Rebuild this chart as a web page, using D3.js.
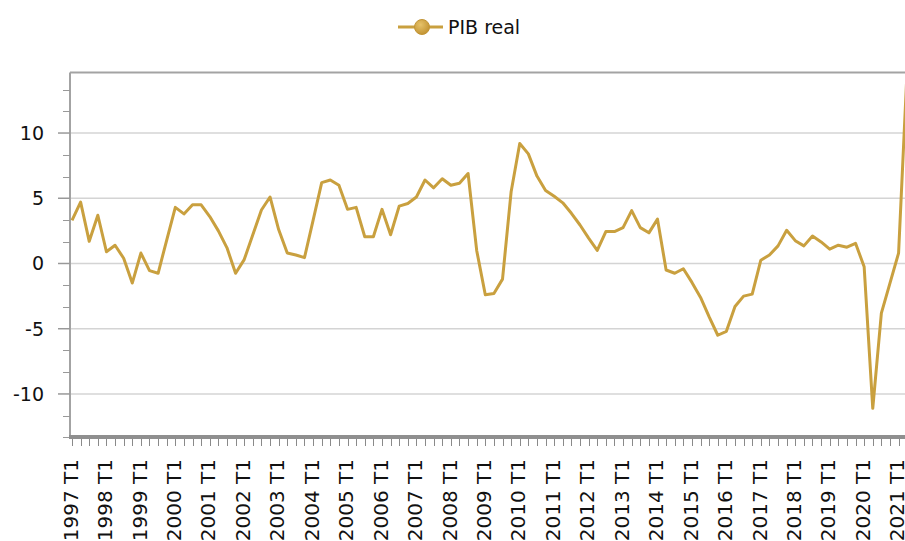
<!DOCTYPE html>
<html>
<head>
    <title>PIB real</title>
    <script src="https://d3js.org/d3.v7.min.js"></script>
    <style>
        body { margin: 0; background: #fff; overflow: hidden; }
        text { font-family: "DejaVu Sans", Verdana, sans-serif; fill: #111; }
    </style>
</head>
<body>
<svg width="905" height="541"></svg>
<script>
    // years shown on the category axis, each split in quarters T1..T4
    var years = [1997, 1998, 1999, 2000, 2001, 2002, 2003, 2004, 2005, 2006, 2007, 2008,
        2009, 2010, 2011, 2012, 2013, 2014, 2015, 2016, 2017, 2018, 2019, 2020, 2021];
    var quarters = ["T1", "T2", "T3", "T4"];

    // PIB real, % interanual, 1997 T1 .. 2021 T2
    var pibReal = [
        3.3, 4.7, 1.7, 3.7, 0.9, 1.4, 0.4, -1.5, 0.8, -0.55, -0.75, 1.8,
        4.3, 3.8, 4.5, 4.5, 3.6, 2.5, 1.2, -0.75, 0.3, 2.2, 4.1, 5.1,
        2.6, 0.8, 0.65, 0.45, 3.3, 6.2, 6.4, 6.0, 4.15, 4.3, 2.05, 2.05,
        4.15, 2.2, 4.4, 4.6, 5.1, 6.4, 5.8, 6.5, 6.0, 6.15, 6.9, 1.0,
        -2.4, -2.3, -1.2, 5.5, 9.2, 8.4, 6.7, 5.6, 5.15, 4.65, 3.85, 2.95,
        1.95, 1.0, 2.45, 2.45, 2.75, 4.05, 2.75, 2.35, 3.4, -0.5, -0.75, -0.4,
        -1.45, -2.6, -4.1, -5.5, -5.2, -3.3, -2.5, -2.35, 0.25, 0.65, 1.35, 2.55,
        1.75, 1.35, 2.1, 1.65, 1.1, 1.4, 1.25, 1.55, -0.25, -11.1, -3.8, -1.5,
        0.8, 15.0
    ];

    var yTicks = [-10, -5, 0, 5, 10];
    var seriesName = "PIB real";

    function draw() {
        var categories = [];
        years.forEach(function (yr) {
            quarters.forEach(function (q) { categories.push(yr + " " + q); });
        });
        categories = categories.slice(0, pibReal.length);

        var data = pibReal.map(function (v, i) { return {cat: categories[i], value: v}; });

        var svg = d3.select("svg");
        var color = "#c9a03f";

        var pLeft = 70, pTop = 72.5, pBottom = 437, pRight = 960;

        var x = d3.scalePoint()
            .domain(categories)
            .range([72, 907.2]);

        var y = d3.scaleLinear()
            .domain([-13.3, 14.64])
            .range([pBottom, pTop]);

        // grid
        svg.append("g")
            .selectAll("line")
            .data(yTicks)
            .enter().append("line")
            .attr("x1", pLeft).attr("x2", pRight)
            .attr("y1", function (d) { return y(d); })
            .attr("y2", function (d) { return y(d); })
            .attr("stroke", "#d4d4d4")
            .attr("stroke-width", 1.5);

        // frame: top and left
        svg.append("line")
            .attr("x1", pLeft).attr("x2", pRight).attr("y1", pTop).attr("y2", pTop)
            .attr("stroke", "#a3a3a3").attr("stroke-width", 2);
        svg.append("line")
            .attr("x1", pLeft).attr("x2", pLeft).attr("y1", pTop).attr("y2", pBottom)
            .attr("stroke", "#a3a3a3").attr("stroke-width", 2);

        // y axis: minor ticks every 5/3, major ticks with labels
        var minor = d3.range(-8, 9).map(function (k) { return k * 5 / 3; })
            .filter(function (v) { return v > -13.35 && v < 14.6 && Math.abs(v % 5) > 0.01; });

        var yAxis = svg.append("g");
        yAxis.selectAll("line.minor")
            .data(minor)
            .enter().append("line")
            .attr("class", "minor")
            .attr("x1", 63).attr("x2", pLeft)
            .attr("y1", function (d) { return Math.round(y(d)) + 0.5; })
            .attr("y2", function (d) { return Math.round(y(d)) + 0.5; })
            .attr("stroke", "#999");
        yAxis.selectAll("line.major")
            .data(yTicks)
            .enter().append("line")
            .attr("class", "major")
            .attr("x1", 58).attr("x2", pLeft)
            .attr("y1", function (d) { return y(d); })
            .attr("y2", function (d) { return y(d); })
            .attr("stroke", "#999").attr("stroke-width", 1.5);
        yAxis.selectAll("text")
            .data(yTicks)
            .enter().append("text")
            .attr("x", 44)
            .attr("y", function (d) { return y(d); })
            .attr("dy", "0.36em")
            .attr("text-anchor", "end")
            .attr("font-size", 19)
            .text(function (d) { return d; });

        // x axis
        var xAxis = svg.append("g");
        xAxis.selectAll("line")
            .data(categories)
            .enter().append("line")
            .attr("x1", function (d) { return Math.round(x(d)) + 0.5; })
            .attr("x2", function (d) { return Math.round(x(d)) + 0.5; })
            .attr("y1", pBottom).attr("y2", 446)
            .attr("stroke", "#8a8a8a");
        xAxis.append("line")
            .attr("x1", pLeft - 1).attr("x2", pRight)
            .attr("y1", pBottom).attr("y2", pBottom)
            .attr("stroke", "#8f8f8f").attr("stroke-width", 4);

        xAxis.selectAll("text")
            .data(categories.filter(function (d) { return d.slice(-2) === "T1"; }))
            .enter().append("text")
            .attr("transform", function (d) { return "translate(" + (x(d) - 1.5) + ",459) rotate(-90)"; })
            .attr("dy", "0.36em")
            .attr("text-anchor", "end")
            .attr("font-size", 20)
            .text(function (d) { return d; });

        // series, clipped to the plot area
        svg.append("clipPath").attr("id", "plot-clip")
            .append("rect")
            .attr("x", pLeft).attr("y", pTop)
            .attr("width", pRight - pLeft).attr("height", pBottom - pTop);

        var line = d3.line()
            .x(function (d) { return x(d.cat); })
            .y(function (d) { return y(d.value); });

        svg.append("path")
            .datum(data)
            .attr("clip-path", "url(#plot-clip)")
            .attr("fill", "none")
            .attr("stroke", color)
            .attr("stroke-width", 3)
            .attr("stroke-linejoin", "round")
            .attr("d", line);

        // legend
        var grad = svg.append("defs").append("radialGradient")
            .attr("id", "marker-grad").attr("cx", "40%").attr("cy", "35%").attr("r", "65%");
        grad.append("stop").attr("offset", "0%").attr("stop-color", "#e6c26a");
        grad.append("stop").attr("offset", "100%").attr("stop-color", "#c39433");

        var legend = svg.append("g");
        legend.append("line")
            .attr("x1", 398).attr("x2", 443).attr("y1", 27).attr("y2", 27)
            .attr("stroke", color).attr("stroke-width", 3);
        legend.append("circle")
            .attr("cx", 422).attr("cy", 27).attr("r", 7.5)
            .attr("fill", "url(#marker-grad)")
            .attr("stroke", "#c29536").attr("stroke-width", 1);
        legend.append("text")
            .attr("x", 448).attr("y", 27)
            .attr("dy", "0.36em")
            .attr("font-size", 19)
            .text(seriesName);
    }
    draw();
</script>
</body>
</html>
